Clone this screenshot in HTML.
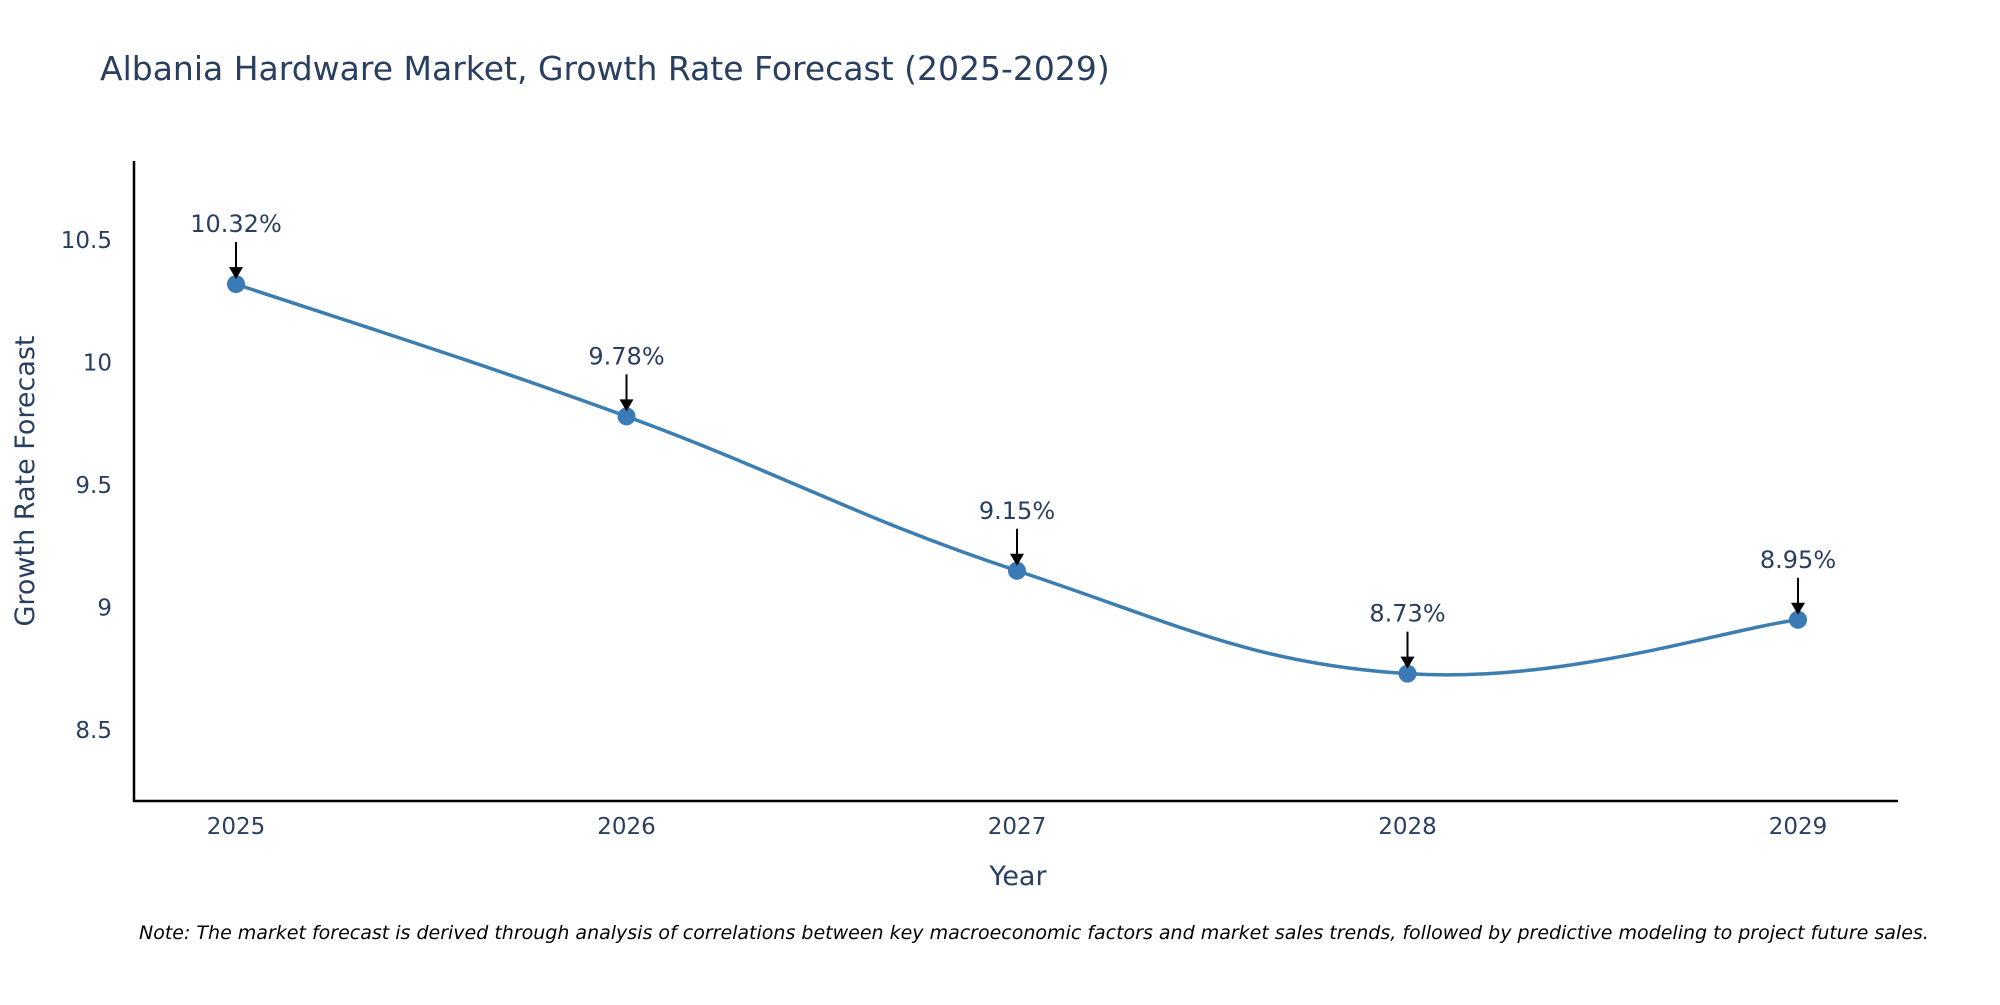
<!DOCTYPE html>
<html><head><meta charset="utf-8"><style>
body{margin:0;background:#fff;}
svg text{font-family:"DejaVu Sans","Liberation Sans",sans-serif;fill:#2a3f5f;}
</style></head><body>
<svg id="chart" width="2000" height="1000" xmlns="http://www.w3.org/2000/svg">
<text x="100" y="80" font-size="33">Albania Hardware Market, Growth Rate Forecast (2025-2029)</text>
<line x1="134" y1="161" x2="134" y2="802" stroke="#000" stroke-width="2.5"/>
<line x1="133" y1="801" x2="1898" y2="801" stroke="#000" stroke-width="2.5"/>
<g id="yticks"></g><g id="xticks"></g>
<text transform="translate(34,481) rotate(-90)" text-anchor="middle" font-size="27">Growth Rate Forecast</text>
<text x="1018" y="885" text-anchor="middle" font-size="27">Year</text>
<g id="series"></g>
<text x="139" y="939" font-size="19" font-style="italic" style="fill:#000">Note: The market forecast is derived through analysis of correlations between key macroeconomic factors and market sales trends, followed by predictive modeling to project future sales.</text>
</svg>
<script>
const years = [2025, 2026, 2027, 2028, 2029];
const rates = [10.32, 9.78, 9.15, 8.73, 8.95];
const yTickValues = [8.5, 9, 9.5, 10, 10.5];
const yTickLabels = ["8.5", "9", "9.5", "10", "10.5"];
const NS = "http://www.w3.org/2000/svg";
function xScale(v){return 236 + (v-2025)*(1798-236)/4;}
function yScale(v){return 240 + (10.5-v)*245;}
function mk(tag, attrs, parent){const e=document.createElementNS(NS,tag);for(const k in attrs)e.setAttribute(k,attrs[k]);parent.appendChild(e);return e;}
const yt=document.getElementById('yticks');
yTickValues.forEach((v,i)=>{
  const t=mk('text',{x:112,y:yScale(v)+8,'text-anchor':'end','font-size':23},yt);
  
  
  t.textContent=yTickLabels[i];
});
const xt=document.getElementById('xticks');
years.forEach(y=>{
  const t=mk('text',{x:xScale(y),y:834,'text-anchor':'middle','font-size':23},xt);
  
  
  t.textContent=String(y);
});
const s=document.getElementById('series');
const pts=years.map((y,i)=>[xScale(y),yScale(rates[i])]);
let d=`M${pts[0][0]},${pts[0][1]}`;
const k=0.2;
for(let i=0;i<pts.length-1;i++){
  const p0=pts[Math.max(0,i-1)],p1=pts[i],p2=pts[i+1],p3=pts[Math.min(pts.length-1,i+2)];
  const c1=[p1[0]+(p2[0]-p0[0])*k,p1[1]+(p2[1]-p0[1])*k];
  const c2=[p2[0]-(p3[0]-p1[0])*k,p2[1]-(p3[1]-p1[1])*k];
  d+=` C${c1[0]},${c1[1]} ${c2[0]},${c2[1]} ${p2[0]},${p2[1]}`;
}
const path=mk('path',{d:d,fill:'none',stroke:'#3d7eb0','stroke-width':3.5},s);


pts.forEach((p,i)=>{
  const c=mk('circle',{cx:p[0],cy:p[1],r:9,fill:'#3a7ab5'},s);
  
  
  const l=mk('line',{x1:p[0],y1:p[1]-42,x2:p[0],y2:p[1]-14,stroke:'#000','stroke-width':2},s);
  
  
  const a=mk('polygon',{points:`${p[0]-7},${p[1]-17} ${p[0]+7},${p[1]-17} ${p[0]},${p[1]-5}`,fill:'#000'},s);
  
  
  const t=mk('text',{x:p[0],y:p[1]-52,'text-anchor':'middle','font-size':24},s);
  
  
  t.textContent=rates[i].toFixed(2)+'%';
});
</script>
</body></html>
